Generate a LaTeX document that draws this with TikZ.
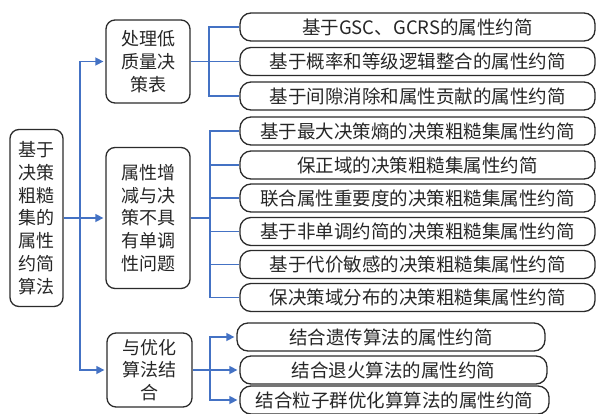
\documentclass[tikz,border=0pt]{standalone}
\usepackage{fontspec}
\setmainfont{Noto Sans CJK SC}
\usetikzlibrary{arrows.meta}
\definecolor{conncol}{HTML}{4472C4}
\definecolor{boxcol}{HTML}{2B2B2B}
\tikzset{
  box/.style={draw=boxcol, line width=1.3pt, rounded corners=9pt, align=center, inner sep=0pt,
    font=\fontsize{18}{22.8}\selectfont, text=black!85},
  leaf/.style={draw=boxcol, line width=1.3pt, rounded corners=11pt, align=center, inner sep=0pt,
    minimum height=28pt, font=\fontsize{18.5}{20}\selectfont, text=black!85},
  conn/.style={draw=conncol, line width=1.5pt},
  arr/.style={conn, -{Triangle[length=8pt,width=8pt]}, shorten >=2pt}
}
\begin{document}
\begin{tikzpicture}[x=1pt,y=-1pt]
\useasboundingbox (0,0) rectangle (597,413);
% main boxes
\node[box, minimum width=53pt, minimum height=177pt] (root) at (36.5,218) {基于\\决策\\粗糙\\集的\\属性\\约简\\算法};
\node[box, minimum width=84pt, minimum height=83pt] (b1) at (148,61.5) {处理低\\质量决\\策表};
\node[box, minimum width=84pt, minimum height=141pt] (b2) at (148,218) {属性增\\减与决\\策不具\\有单调\\性问题};
\node[box, minimum width=85pt, minimum height=74pt] (b3) at (149.5,370) {与优化\\算法结\\合};
% leaves
\node[leaf, minimum width=355pt] (l1) at (417.5,27) {基于GSC、GCRS的属性约简};
\node[leaf, minimum width=355pt] (l2) at (417.5,61.5) {基于概率和等级逻辑整合的属性约简};
\node[leaf, minimum width=355pt] (l3) at (417.5,96) {基于间隙消除和属性贡献的属性约简};
\node[leaf, minimum width=355pt] (l4) at (417.5,131) {基于最大决策熵的决策粗糙集属性约简};
\node[leaf, minimum width=355pt] (l5) at (417.5,165) {保正域的决策粗糙集属性约简};
\node[leaf, minimum width=355pt] (l6) at (417.5,198) {联合属性重要度的决策粗糙集属性约简};
\node[leaf, minimum width=355pt] (l7) at (417.5,231.5) {基于非单调约简的决策粗糙集属性约简};
\node[leaf, minimum width=355pt] (l8) at (417.5,264.5) {基于代价敏感的决策粗糙集属性约简};
\node[leaf, minimum width=355pt] (l9) at (417.5,297.5) {保决策域分布的决策粗糙集属性约简};
\node[leaf, minimum width=308pt] (l10) at (391,337) {结合遗传算法的属性约简};
\node[leaf, minimum width=307pt] (l11) at (393.5,370) {结合退火算法的属性约简};
\node[leaf, minimum width=309pt] (l12) at (394.5,400) {结合粒子群优化算算法的属性约简};
% junctions
\coordinate (j0) at (80,218);
\coordinate (j1) at (209,61.5);
\coordinate (j2) at (210,218);
\coordinate (j3) at (210,370);
% root connectors
\draw[conn] (root.east) -- (j0);
\draw[arr] (j0) |- (b1.west);
\draw[arr] (j0) -- (b2.west);
\draw[arr] (j0) |- (b3.west);
% group 1
\draw[conn] (b1.east) -- (j1);
\foreach \n in {l1,l2,l3} \draw[conn] (j1) |- (\n.west);
% group 2
\draw[conn] (b2.east) -- (j2);
\foreach \n in {l4,l5,l6,l7,l8,l9} \draw[conn] (j2) |- (\n.west);
% group 3
\draw[conn] (b3.east) -- (j3);
\foreach \n in {l10,l11,l12} \draw[arr] (j3) |- (\n.west);
\end{tikzpicture}
\end{document}
